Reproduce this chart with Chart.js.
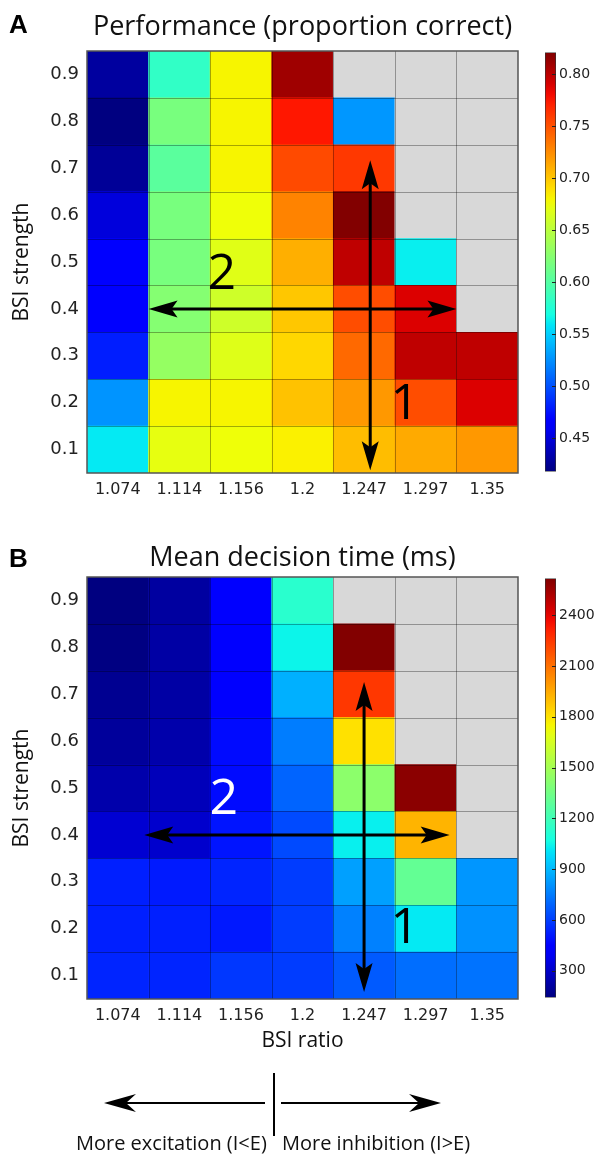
<!DOCTYPE html>
<html lang="en">
<head>
<meta charset="UTF-8">
<title>BSI ratio / strength heatmaps</title>
<script src="https://cdn.jsdelivr.net/npm/chart.js"></script>
<style>
  body { margin: 0; background: #fff; }
  #page { position: relative; width: 594px; height: 1154px; overflow: hidden; }
  canvas, svg { position: absolute; }
</style>
</head>
<body>
<div id="page">
  <canvas id="heatA" width="519" height="510" style="left:0px;top:0px"></canvas>
  <canvas id="barA" width="52" height="442" style="left:545px;top:41px"></canvas>
  <canvas id="heatB" width="519" height="530" style="left:0px;top:526px"></canvas>
  <canvas id="barB" width="52" height="442" style="left:545px;top:567px"></canvas>
  <svg width="594" height="1154" style="left:0px;top:0px">
    <text x="9" y="33" font-family="Liberation Sans, Arial, sans-serif" font-weight="bold" font-size="26" fill="#000">A</text>
    <text x="9" y="567" font-family="Liberation Sans, Arial, sans-serif" font-weight="bold" font-size="26" fill="#000">B</text>
    <g stroke="#000" stroke-width="2" fill="#000">
      <line x1="274" y1="1073" x2="274" y2="1136" />
      <line x1="265" y1="1103" x2="124" y2="1103" />
      <path d="M104,1103 L136,1094 L126,1103 L136,1112 Z" stroke="none" />
      <line x1="281" y1="1103" x2="421" y2="1103" />
      <path d="M441,1103 L409,1094 L419,1103 L409,1112 Z" stroke="none" />
    </g>
    <g font-family="Open Sans, sans-serif" font-size="20" fill="#111">
      <text x="76" y="1150">More excitation (I&lt;E)</text>
      <text x="282" y="1150">More inhibition (I&gt;E)</text>
    </g>
  </svg>
</div>
<script>
// BSI ratio (columns) and BSI strength (rows, bottom to top)
const ratios = ['1.074', '1.114', '1.156', '1.2', '1.247', '1.297', '1.35'];
const strengths = ['0.1', '0.2', '0.3', '0.4', '0.5', '0.6', '0.7', '0.8', '0.9'];

// proportion correct, one row per strength (0.1 first), null = not simulated
const perfCorrect = [
  [0.561, 0.672, 0.676, 0.682, 0.704, 0.712, 0.720],
  [0.527, 0.680, 0.680, 0.702, 0.720, 0.752, 0.789],
  [0.480, 0.632, 0.668, 0.693, 0.740, 0.799, 0.799],
  [0.466, 0.624, 0.660, 0.700, 0.752, 0.789, null],
  [0.466, 0.618, 0.669, 0.710, 0.799, 0.563, null],
  [0.450, 0.618, 0.676, 0.729, 0.820, null, null],
  [0.426, 0.603, 0.680, 0.753, 0.761, null, null],
  [0.418, 0.618, 0.680, 0.775, 0.528, null, null],
  [0.429, 0.583, 0.680, 0.810, null, null, null]
];

// mean decision time (ms)
const decisionTime = [
  [537, 537, 584, 597, 669, 718, 730],
  [525, 525, 508, 597, 765, 1020, 802],
  [525, 513, 537, 597, 840, 1305, 815],
  [317, 307, 500, 631, 1033, 1924, null],
  [233, 265, 475, 693, 1429, 2593, null],
  [200, 233, 475, 753, 1805, null, null],
  [178, 220, 438, 877, 2251, null, null],
  [146, 220, 438, 1045, 2613, null, null],
  [141, 210, 426, 1132, null, null, null]
];

// colour limits and colorbar ticks
const perfRange = [0.418, 0.821];
const timeRange = [141, 2618];
const perfTicks = [0.45, 0.50, 0.55, 0.60, 0.65, 0.70, 0.75, 0.80];
const timeTicks = [300, 600, 900, 1200, 1500, 1800, 2100, 2400];

// matplotlib "jet"
function jet(t) {
  t = Math.min(1, Math.max(0, t));
  const seg = pts => {
    for (let i = 1; i < pts.length; i++) {
      if (t <= pts[i][0]) {
        const [x0, y0] = pts[i - 1], [x1, y1] = pts[i];
        return y0 + (y1 - y0) * (t - x0) / (x1 - x0);
      }
    }
    return pts[pts.length - 1][1];
  };
  const r = seg([[0, 0], [0.35, 0], [0.66, 1], [0.89, 1], [1, 0.5]]);
  const g = seg([[0, 0], [0.125, 0], [0.375, 1], [0.64, 1], [0.91, 0], [1, 0]]);
  const b = seg([[0, 0.5], [0.11, 1], [0.34, 1], [0.65, 0], [1, 0]]);
  return `rgb(${Math.round(r * 255)},${Math.round(g * 255)},${Math.round(b * 255)})`;
}

function cellColor(v, range) {
  if (v === null) return '#d8d8d8';
  return jet((v - range[0]) / (range[1] - range[0]));
}

function jetGradient(chart) {
  const a = chart.chartArea;
  if (!a) return null;
  const g = chart.ctx.createLinearGradient(0, a.bottom, 0, a.top);
  for (let i = 0; i <= 40; i++) g.addColorStop(i / 40, jet(i / 40));
  return g;
}

function drawHead(ctx, tx, ty, ux, uy) {
  const L = 29, W = 8.5, N = 23;
  const nx = -uy, ny = ux;
  ctx.beginPath();
  ctx.moveTo(tx, ty);
  ctx.lineTo(tx - ux * L + nx * W, ty - uy * L + ny * W);
  ctx.lineTo(tx - ux * N, ty - uy * N);
  ctx.lineTo(tx - ux * L - nx * W, ty - uy * L - ny * W);
  ctx.closePath();
  ctx.fill();
}

// grid lines, frame, arrows and the "1"/"2" marks
const cellFrame = {
  id: 'cellFrame',
  afterDatasetsDraw(chart, args, o) {
    const { ctx, chartArea: a, scales: { x, y } } = chart;
    ctx.save();
    ctx.strokeStyle = 'rgba(0,0,0,0.33)';
    ctx.lineWidth = 1;
    ctx.beginPath();
    for (let i = 1; i < ratios.length; i++) {
      const px = Math.round(x.getPixelForValue(i - 0.5)) + 0.5;
      ctx.moveTo(px, a.top); ctx.lineTo(px, a.bottom);
    }
    for (let j = 1; j < strengths.length; j++) {
      const py = Math.round(y.getPixelForValue(j)) + 0.5;
      ctx.moveTo(a.left, py); ctx.lineTo(a.right, py);
    }
    ctx.stroke();
    ctx.strokeStyle = '#555';
    ctx.lineWidth = 1.5;
    ctx.strokeRect(a.left, a.top, a.width, a.height);

    ctx.strokeStyle = '#000';
    ctx.fillStyle = '#000';
    ctx.lineWidth = 3;
    (o.arrows || []).forEach(([x0, y0, x1, y1]) => {
      const p0 = [x.getPixelForValue(x0), y.getPixelForValue(y0)];
      const p1 = [x.getPixelForValue(x1), y.getPixelForValue(y1)];
      const len = Math.hypot(p1[0] - p0[0], p1[1] - p0[1]);
      const ux = (p1[0] - p0[0]) / len, uy = (p1[1] - p0[1]) / len;
      ctx.beginPath();
      ctx.moveTo(p0[0] + ux * 22, p0[1] + uy * 22);
      ctx.lineTo(p1[0] - ux * 22, p1[1] - uy * 22);
      ctx.stroke();
      drawHead(ctx, p1[0], p1[1], ux, uy);
      drawHead(ctx, p0[0], p0[1], -ux, -uy);
    });
    ctx.font = '50px "Open Sans"';
    ctx.textAlign = 'center';
    ctx.textBaseline = 'middle';
    (o.marks || []).forEach(m => {
      ctx.fillStyle = m.color;
      ctx.fillText(m.text, x.getPixelForValue(m.x), y.getPixelForValue(m.y));
    });
    ctx.restore();
  }
};

// little inner tick marks on the colorbar
const barTicks = {
  id: 'barTicks',
  afterDatasetsDraw(chart) {
    const { ctx, chartArea: a, scales: { y } } = chart;
    ctx.save();
    ctx.strokeStyle = '#222';
    ctx.lineWidth = 1;
    ctx.beginPath();
    y.ticks.forEach(t => {
      const py = Math.round(y.getPixelForValue(t.value)) + 0.5;
      ctx.moveTo(a.right - 4, py); ctx.lineTo(a.right, py);
    });
    ctx.stroke();
    ctx.restore();
  }
};

function heatmap(id, values, range, o) {
  const datasets = strengths.map((s, r) => ({
    label: s,
    data: ratios.map(() => 1),
    backgroundColor: values[r].map(v => cellColor(v, range)),
    borderWidth: 0,
    categoryPercentage: 1,
    barPercentage: 1
  }));
  return new Chart(document.getElementById(id), {
    type: 'bar',
    data: { labels: ratios, datasets },
    options: {
      responsive: false,
      animation: false,
      events: [],
      layout: { padding: { right: 1 } },
      plugins: {
        legend: { display: false },
        tooltip: { enabled: false },
        title: {
          display: true,
          fullSize: false,
          text: o.title,
          color: '#111',
          font: { family: 'Open Sans', size: 27, weight: 'normal' },
          padding: o.titlePad
        },
        cellFrame: { arrows: o.arrows, marks: o.marks }
      },
      scales: {
        x: {
          stacked: true,
          grid: { display: false, drawTicks: false },
          border: { display: false },
          ticks: { color: '#222', font: { family: 'DejaVu Sans', size: 16 }, padding: 7, maxRotation: 0 },
          title: {
            display: !!o.xTitle,
            text: o.xTitle,
            color: '#111',
            font: { family: 'Open Sans', size: 21 },
            padding: { top: 0, bottom: 2 }
          },
          afterFit: s => { s.height = o.xHeight; }
        },
        y: {
          stacked: true,
          min: 0,
          max: 9,
          grid: { display: false, drawTicks: false },
          border: { display: false },
          afterBuildTicks: s => { s.ticks = strengths.map((_, i) => ({ value: i + 0.5 })); },
          ticks: {
            color: '#222',
            font: { family: 'DejaVu Sans', size: 18 },
            padding: 8,
            callback: v => strengths[Math.round(v - 0.5)]
          },
          title: {
            display: true,
            text: 'BSI strength',
            color: '#111',
            font: { family: 'Open Sans', size: 21 },
            padding: { top: 9, bottom: 0 }
          },
          afterFit: s => { s.width = 87; }
        }
      }
    },
    plugins: [cellFrame]
  });
}

function colorbar(id, range, tickValues, fmt) {
  return new Chart(document.getElementById(id), {
    type: 'bar',
    data: {
      labels: [''],
      datasets: [{
        data: [range],
        backgroundColor: c => jetGradient(c.chart),
        borderColor: '#333',
        borderWidth: 1,
        borderSkipped: false,
        categoryPercentage: 1,
        barPercentage: 1
      }]
    },
    options: {
      responsive: false,
      animation: false,
      events: [],
      layout: { padding: { top: 10, bottom: 10 } },
      plugins: { legend: { display: false }, tooltip: { enabled: false } },
      scales: {
        x: { display: false },
        y: {
          position: 'right',
          min: range[0],
          max: range[1],
          grid: { display: false, drawTicks: false },
          border: { display: false },
          afterBuildTicks: s => { s.ticks = tickValues.map(v => ({ value: v })); },
          ticks: {
            color: '#222',
            font: { family: 'DejaVu Sans', size: 14 },
            padding: 3,
            callback: fmt
          },
          afterFit: s => { s.width = 41; }
        }
      }
    },
    plugins: [barTicks]
  });
}

heatmap('heatA', perfCorrect, perfRange, {
  title: 'Performance (proportion correct)',
  titlePad: { top: 11, bottom: 7.6 },
  xHeight: 37,
  arrows: [[4.1, 6.67, 4.1, 0.06], [0.5, 3.5, 5.5, 3.5]],
  marks: [{ text: '2', x: 1.69, y: 4.22, color: '#000' }, { text: '1', x: 4.66, y: 1.45, color: '#000' }]
});
colorbar('barA', perfRange, perfTicks, v => v.toFixed(2));

heatmap('heatB', decisionTime, timeRange, {
  title: 'Mean decision time (ms)',
  titlePad: { top: 16.6, bottom: 2 },
  xTitle: 'BSI ratio',
  xHeight: 57,
  arrows: [[4.0, 6.76, 4.0, 0.15], [0.43, 3.5, 5.39, 3.5]],
  marks: [{ text: '2', x: 1.72, y: 4.24, color: '#fff' }, { text: '1', x: 4.66, y: 1.49, color: '#000' }]
});
colorbar('barB', timeRange, timeTicks, v => String(v));
</script>
</body>
</html>
